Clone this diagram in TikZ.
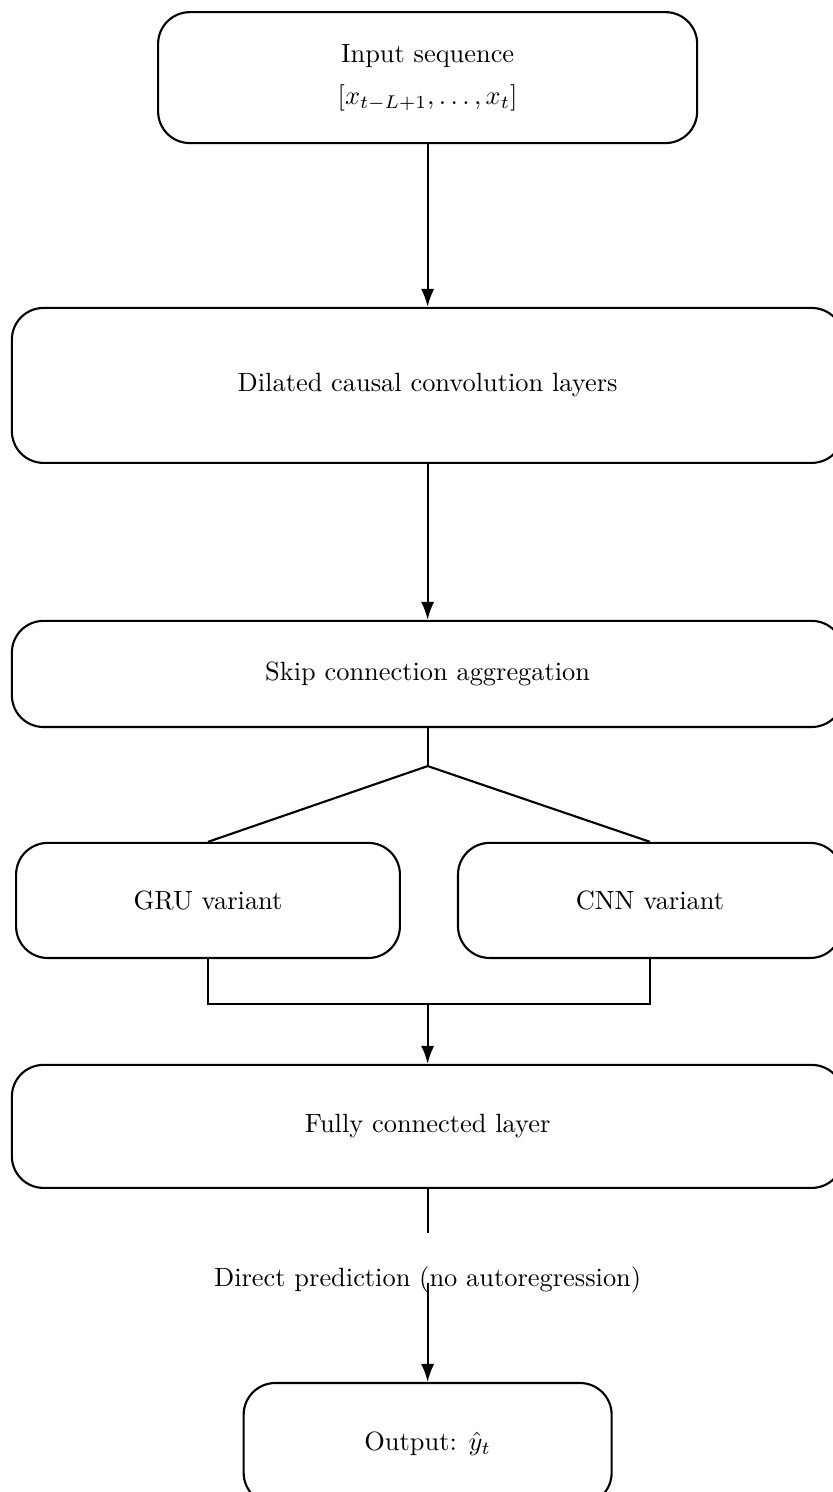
\documentclass[tikz,border=0pt]{standalone}
\usetikzlibrary{arrows.meta}

\begin{document}
\begin{tikzpicture}[x=1pt,y=1pt,thick,
    box/.style={draw,rounded corners=12pt,align=center,inner sep=0pt},
    wide/.style={box,minimum width=315pt},
    half/.style={box,minimum width=145.4pt,minimum height=43.6pt},
    edgelabel/.style={inner xsep=2pt,inner ysep=12.5pt},
    >={Latex[length=6.8pt,width=5pt]}]
      \useasboundingbox (0,0) rectangle (315.5,-565.2);
      \clip (0,0) rectangle (315.5,-565.2);
      \draw
        (162,-29.4) node[box,minimum width=204.2pt,minimum height=49.6pt] (input)
          {Input sequence\\[4pt] $[x_{t-L+1},\dots,x_t]$}
        (162,-146.0) node[wide,minimum height=58.7pt] (dilated)
          {Dilated causal convolution layers}
        (162,-255.3) node[wide,minimum height=40.2pt] (skip)
          {Skip connection aggregation}
        (78.8,-341.1) node[half] (gru) {GRU variant}
        (246.2,-341.1) node[half] (cnn) {CNN variant}
        (162,-426.7) node[wide,minimum height=46.6pt] (fc)
          {Fully connected layer}
        (162,-487.5) node[edgelabel,anchor=base] (lbl)
          {Direct prediction (no autoregression)}
        (162,-546.9) node[box,minimum width=139.4pt,minimum height=46pt] (out)
          {Output: $\hat{y}_t$};
      \coordinate (split) at (162,-290.2);
      \coordinate (gruend) at (78.8,-380.3);
      \coordinate (cnnend) at (246.2,-380.3);
      \coordinate (merge) at (162,-380.3);
      \begin{scope}[->]
        \draw (input) to (dilated);
        \draw (dilated) to (skip);
        \draw (merge) to (fc);
        \draw ([yshift=1.5pt]lbl.base) to (out);
      \end{scope}
      \begin{scope}[-]
        \draw (skip) to (split);
        \draw (split) to (gru.north);
        \draw (split) to (cnn.north);
        \draw (gru) to (gruend) to (cnnend) to (cnn);
        \draw (fc) to (lbl);
      \end{scope}
    \end{tikzpicture}
\end{document}
